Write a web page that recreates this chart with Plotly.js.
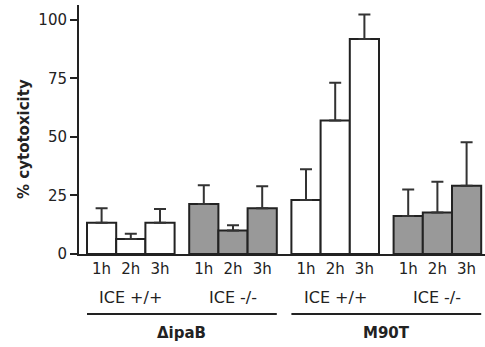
<!DOCTYPE html>
<html>
<head>
<meta charset="utf-8">
<script src="https://cdn.plot.ly/plotly-3.0.1.min.js"></script>
<style>html,body{margin:0;padding:0;background:#fff;}#chart{width:485px;height:347px;}</style>
</head>
<body>
<div id="chart"></div>
<script>
// Data
var times = ["1h", "2h", "3h"];
var groupLabels = ["ICE +/+", "ICE -/-", "ICE +/+", "ICE -/-"];
var strainLabels = ["\u0394ipaB", "M90T"];
var groupFill = ["#ffffff", "#999999", "#ffffff", "#999999"];
var values = [
  [13.4, 6.4, 13.4],   // ΔipaB ICE +/+
  [21.4, 10.0, 19.5],  // ΔipaB ICE -/-
  [23.1, 57.0, 91.9],  // M90T ICE +/+
  [16.2, 17.7, 29.2]   // M90T ICE -/-
];
var errors = [
  [6.2, 2.3, 5.8],
  [8.0, 2.3, 9.5],
  [13.1, 16.2, 10.4],
  [11.4, 13.2, 18.5]
];

var GROUP_STEP = 3.5;
var font = "DejaVu Sans, Liberation Sans, Arial, sans-serif";
var ink = "#222";

var traces = [];
var tickvals = [], ticktext = [];
values.forEach(function (vals, g) {
  var xs = vals.map(function (v, t) { return g * GROUP_STEP + t; });
  xs.forEach(function (x, t) { tickvals.push(x); ticktext.push(times[t]); });
  traces.push({
    type: "bar",
    x: xs,
    y: vals,
    width: 1,
    marker: { color: groupFill[g], line: { color: ink, width: 2 } },
    error_y: { type: "data", symmetric: false, array: errors[g], arrayminus: errors[g].map(function(){return 0;}),
               color: "#333", thickness: 2, width: 6 },
    hoverinfo: "skip",
    showlegend: false
  });
});

var annotations = [];
var shapes = [];
groupLabels.forEach(function (lab, g) {
  annotations.push({ x: g * GROUP_STEP + 1, y: -0.173, xref: "x", yref: "paper", text: lab,
    showarrow: false, font: { family: font, size: 16, color: ink }, xanchor: "center", yanchor: "middle" });
});
strainLabels.forEach(function (lab, s) {
  var x0 = (2 * s) * GROUP_STEP - 0.5;
  var x1 = (2 * s + 1) * GROUP_STEP + 2.5;
  shapes.push({ type: "line", xref: "x", yref: "paper", x0: x0, x1: x1, y0: -0.241, y1: -0.241,
    line: { color: ink, width: 2 } });
  annotations.push({ x: (x0 + x1) / 2, y: -0.317, xref: "x", yref: "paper", text: "<b>" + lab + "</b>",
    showarrow: false, font: { family: font, size: 15, color: ink }, xanchor: "center", yanchor: "middle" });
});
annotations.push({ x: 0, xref: "paper", xanchor: "center", xshift: -55, y: 0.462, yref: "paper",
  text: "<b>% cytotoxicity</b>", textangle: -90, showarrow: false,
  font: { family: font, size: 15, color: ink }, yanchor: "middle" });

var layout = {
  width: 485, height: 347,
  margin: { l: 79, r: 0, t: 5, b: 93 },
  paper_bgcolor: "#fff", plot_bgcolor: "#fff",
  font: { family: font, size: 15, color: ink },
  xaxis: {
    range: [-0.774, 13.13],
    tickvals: tickvals, ticktext: ticktext,
    showgrid: false, zeroline: false, showline: true, linecolor: ink, linewidth: 2,
    ticks: "", tickfont: { family: font, size: 15, color: ink }, fixedrange: true
  },
  yaxis: {
    range: [0, 106.4],
    tickvals: [0, 25, 50, 75, 100],
    showgrid: false, zeroline: false, showline: true, linecolor: ink, linewidth: 2,
    ticks: "outside", ticklen: 7, tickwidth: 2, tickcolor: ink,
    tickfont: { family: font, size: 15, color: ink }, fixedrange: true
  },
  bargap: 0,
  annotations: annotations,
  shapes: shapes
};

Plotly.newPlot("chart", traces, layout, { displayModeBar: false, staticPlot: true });
</script>
</body>
</html>
